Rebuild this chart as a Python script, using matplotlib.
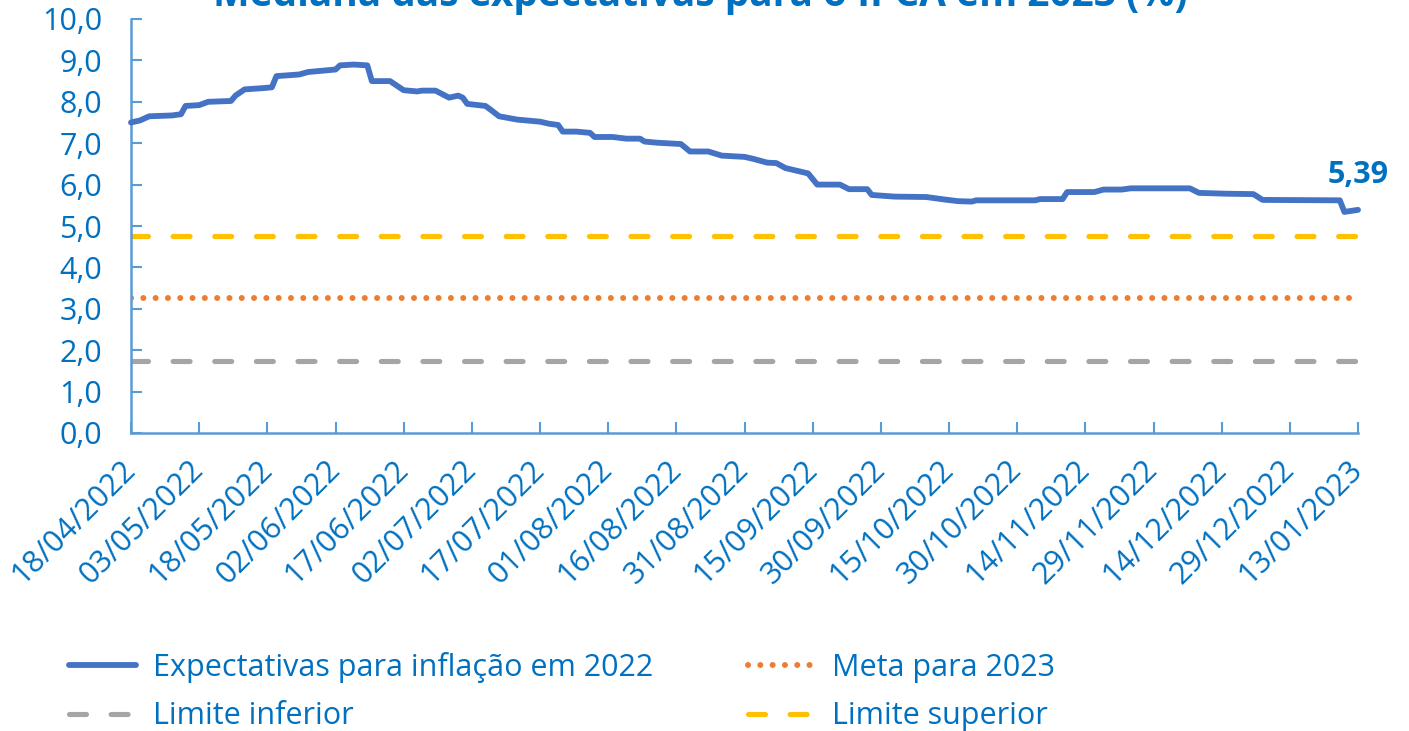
import pandas as pd
import matplotlib
matplotlib.use('Agg')
import matplotlib.pyplot as plt
import matplotlib.dates as mdates
from matplotlib.ticker import FuncFormatter
from matplotlib.lines import Line2D

plt.rcParams['font.family'] = ['Open Sans', 'DejaVu Sans']

# mediana das expectativas (Focus) - leitura aproximada do grafico
dates = ['2022-04-18', '2022-04-20', '2022-04-22', '2022-04-27', '2022-04-29', '2022-04-30',
         '2022-05-03', '2022-05-05', '2022-05-10', '2022-05-11', '2022-05-13', '2022-05-17',
         '2022-05-19', '2022-05-20', '2022-05-25', '2022-05-27', '2022-05-31', '2022-06-02',
         '2022-06-03', '2022-06-06', '2022-06-09', '2022-06-10', '2022-06-14', '2022-06-17',
         '2022-06-20', '2022-06-21', '2022-06-24', '2022-06-27', '2022-06-29', '2022-06-30',
         '2022-07-01', '2022-07-05', '2022-07-06', '2022-07-08', '2022-07-12', '2022-07-17',
         '2022-07-19', '2022-07-21', '2022-07-22', '2022-07-25', '2022-07-28', '2022-07-29',
         '2022-08-02', '2022-08-05', '2022-08-08', '2022-08-09', '2022-08-12', '2022-08-17',
         '2022-08-19', '2022-08-23', '2022-08-26', '2022-08-31', '2022-09-02', '2022-09-05',
         '2022-09-07', '2022-09-09', '2022-09-14', '2022-09-16', '2022-09-21', '2022-09-23',
         '2022-09-27', '2022-09-28', '2022-10-03', '2022-10-10', '2022-10-14', '2022-10-17',
         '2022-10-20', '2022-10-21', '2022-10-28', '2022-11-03', '2022-11-04', '2022-11-09',
         '2022-11-10', '2022-11-16', '2022-11-18', '2022-11-22', '2022-11-24', '2022-12-07',
         '2022-12-09', '2022-12-15', '2022-12-21', '2022-12-23', '2023-01-09', '2023-01-10',
         '2023-01-13']
expectativas = [7.50, 7.55, 7.65, 7.67, 7.70, 7.90,
                7.92, 8.00, 8.02, 8.15, 8.30, 8.33,
                8.35, 8.62, 8.66, 8.72, 8.76, 8.78,
                8.88, 8.90, 8.88, 8.50, 8.50, 8.28,
                8.25, 8.27, 8.27, 8.10, 8.15, 8.10,
                7.95, 7.90, 7.82, 7.65, 7.57, 7.52,
                7.47, 7.44, 7.28, 7.28, 7.25, 7.15,
                7.15, 7.11, 7.11, 7.04, 7.01, 6.98,
                6.80, 6.80, 6.70, 6.67, 6.62, 6.53,
                6.52, 6.40, 6.27, 6.00, 6.00, 5.89,
                5.89, 5.75, 5.71, 5.70, 5.64, 5.60,
                5.59, 5.62, 5.62, 5.62, 5.65, 5.65,
                5.82, 5.82, 5.88, 5.88, 5.91, 5.91,
                5.80, 5.78, 5.77, 5.63, 5.62, 5.34,
                5.39]

meta = 3.25
limite_inferior = 1.75
limite_superior = 4.75

start_date = '2022-04-18'
end_date = '2023-01-13'

blue_text = '#0070C0'
axis_color = '#5B9BD5'
fs = 22

dates = pd.to_datetime(dates)
tick_dates = pd.date_range(start_date, end_date, freq='15D')

fig = plt.figure(figsize=(14.09, 7.31), dpi=100)
ax = fig.add_axes([131 / 1409, 1 - 433 / 731, (1358 - 131) / 1409, (433 - 19) / 731])

ax.plot(dates, expectativas, color='#4472C4', linewidth=4.2, solid_capstyle='round',
        solid_joinstyle='round', clip_on=False, zorder=5)
ax.axhline(meta, color='#ED7D31', linewidth=4.3, linestyle=(0, (0.01, 2.05)),
           dash_capstyle='round')
ax.axhline(limite_inferior, color='#A5A5A5', linewidth=3.7, linestyle=(0, (3.3, 4.8)),
           dash_capstyle='round')
ax.axhline(limite_superior, color='#FFC000', linewidth=3.7, linestyle=(0, (3.3, 4.8)),
           dash_capstyle='round')

ax.annotate(f'{expectativas[-1]:.2f}'.replace('.', ','), (dates[-1], expectativas[-1]),
            xytext=(0, 25), textcoords='offset points', ha='center', va='center',
            fontsize=22, fontweight='bold', color=blue_text)

ax.set_xlim(pd.Timestamp(start_date), pd.Timestamp(end_date))
ax.set_ylim(0, 10)
ax.set_yticks(range(0, 11))
ax.yaxis.set_major_formatter(FuncFormatter(lambda v, p: f'{v:.1f}'.replace('.', ',')))
ax.set_xticks(tick_dates)
ax.xaxis.set_major_formatter(mdates.DateFormatter('%d/%m/%Y'))

for side in ['top', 'right']:
    ax.spines[side].set_visible(False)
for side in ['left', 'bottom']:
    ax.spines[side].set_color(axis_color)
    ax.spines[side].set_linewidth(1.8)

ax.tick_params(axis='both', direction='in', length=8, width=1.5, color=axis_color,
               labelcolor=blue_text, labelsize=fs)
ax.tick_params(axis='y', pad=21)
ax.tick_params(axis='x', pad=23)
for lab in ax.get_xticklabels():
    lab.set_rotation(45)
    lab.set_ha('right')
    lab.set_va('center')
    lab.set_rotation_mode('anchor')

fig.text(0.497, 1 - 6 / 731, 'Mediana das expectativas para o IPCA em 2023 (%)',
         ha='center', va='baseline', fontsize=28, fontweight='bold', color=blue_text)

handles = [
    Line2D([], [], color='#4472C4', linewidth=4.2, solid_capstyle='round'),
    Line2D([], [], color='#A5A5A5', linewidth=3.7, linestyle=(0, (3.3, 4.8)), dash_capstyle='round'),
    Line2D([], [], color='#ED7D31', linewidth=4.3, linestyle=(0, (0.01, 2.05)), dash_capstyle='round'),
    Line2D([], [], color='#FFC000', linewidth=3.7, linestyle=(0, (3.3, 4.8)), dash_capstyle='round'),
]
labels = ['Expectativas para inflação em 2022', 'Limite inferior',
          'Meta para 2023', 'Limite superior']
leg = fig.legend(handles, labels, ncol=2, loc='upper left',
                 bbox_to_anchor=(69 / 1409, 1 - 652 / 731), frameon=False,
                 fontsize=fs, handlelength=2.2, handletextpad=0.55,
                 columnspacing=3.1, labelspacing=0.6, borderpad=0, borderaxespad=0)
for t in leg.get_texts():
    t.set_color(blue_text)

fig.savefig('out.png', dpi=100)
